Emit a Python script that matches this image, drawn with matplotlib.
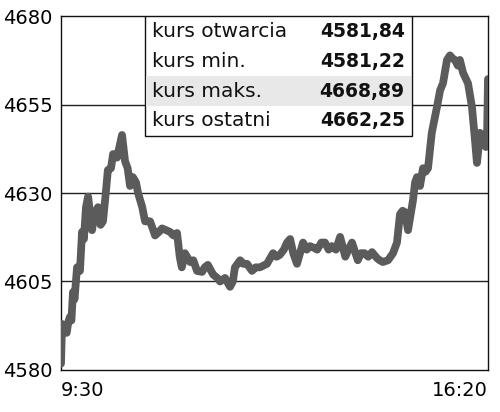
import matplotlib
matplotlib.use("Agg")
import matplotlib.pyplot as plt
from matplotlib.patches import Rectangle

# minutes since 9:30 and index value
minutes = [0, 1, 3, 5.5, 7, 8.6, 10, 11.5, 13, 15.4, 18.2, 20.2, 22, 24, 26, 28, 29.8,
           32, 35.5, 38, 40.3, 43, 45, 48, 50, 53.8, 56, 58.6, 61.5, 64, 66.3, 69, 72, 74,
           78, 80.7, 85.5, 88, 90.3, 94, 97, 101, 104.7, 108, 111.4, 114, 116, 119, 124,
           127, 130.6, 135.4, 138, 141, 146, 150, 152.7, 157.5, 162.3, 165, 167, 172, 175,
           178.6, 183.4, 187, 191, 197.8, 203.6, 207, 210, 214, 217, 220, 223, 226.6,
           232.4, 236, 239, 243, 246, 250, 253.5, 257, 260, 264, 268, 273, 276, 279.4,
           285, 288, 291.5, 295, 298.6, 303.4, 306, 309, 314, 318.8, 322.6, 325.5, 328,
           330.3, 333.2, 338, 340, 341.8, 344.7, 347.6, 350, 352.4, 356, 361, 364, 366.8,
           370.6, 373.5, 376, 378.3, 381, 383, 386, 390.8, 394.6, 397.5, 399.4, 401,
           402.3, 405, 408, 409, 410]
values = [4581.8, 4593, 4592, 4590.5, 4593.5, 4595, 4594, 4602, 4600, 4609, 4608, 4619, 4617,
          4626, 4629, 4624, 4619.5, 4624, 4626, 4621, 4622, 4630, 4636.5, 4637, 4641, 4640,
          4643, 4646.4, 4639, 4637, 4632, 4634.5, 4633, 4630, 4626, 4622, 4622, 4620, 4618,
          4619, 4620, 4619.5, 4619, 4618, 4618.7, 4612, 4609, 4613, 4610.5, 4611, 4608,
          4607.7, 4609, 4609.7, 4607, 4606, 4605, 4606, 4603.5, 4605, 4609, 4611, 4610,
          4610, 4608, 4609, 4609, 4610, 4613, 4612, 4612.5, 4614, 4616, 4617, 4613, 4610,
          4616, 4614, 4615, 4614.5, 4614, 4616, 4616, 4614, 4615, 4614, 4617.6, 4612, 4614,
          4616, 4611, 4613, 4613, 4612, 4613.3, 4611.6, 4611, 4610.5, 4611, 4613, 4616,
          4624, 4625, 4624.6, 4619.5, 4628, 4633, 4634.5, 4632, 4637, 4636, 4637, 4647,
          4654.3, 4659, 4661, 4667.6, 4668.9, 4668, 4667.6, 4666, 4667.6, 4664, 4661,
          4654.3, 4645, 4638.5, 4643, 4647, 4646, 4643, 4644, 4662.2]

ytick_vals = [4580, 4605, 4630, 4655, 4680]
xtick_labels = ["9:30", "16:20"]

row_labels = ["kurs otwarcia", "kurs min.", "kurs maks.", "kurs ostatni"]
row_values = ["4581,84", "4581,22", "4668,89", "4662,25"]

plt.rcParams['font.family'] = ['DejaVu Sans']

fig = plt.figure(figsize=(5, 4.12), dpi=100)
ax = fig.add_axes([0.122, 0.102, 0.854, 0.859])

for v in ytick_vals[1:-1]:
    ax.axhline(v, color='#222222', lw=1.0, zorder=1)

ax.plot(minutes, values, color='#5b5b5b', lw=5.6, solid_joinstyle='round',
        solid_capstyle='round', zorder=3)

ax.set_xlim(0, 410)
ax.set_ylim(4580, 4680)
ax.set_yticks(ytick_vals)
ax.set_yticklabels([str(v) for v in ytick_vals], fontsize=14)
ax.set_xticks([0, 410])
ax.set_xticklabels(xtick_labels, fontsize=14)
xl = ax.get_xticklabels()
xl[0].set_horizontalalignment('left')
xl[1].set_horizontalalignment('right')
ax.tick_params(axis='y', length=0, pad=6)
ax.tick_params(axis='x', length=0, pad=8)
for s in ax.spines.values():
    s.set_linewidth(1.0)
    s.set_color('#111111')

# info table in the top of the plot
x0, x1 = 0.197, 0.822
rh = 0.0847
top = 1.0
ax.add_patch(Rectangle((x0, top - 4 * rh), x1 - x0, 4 * rh, transform=ax.transAxes,
                       facecolor='white', edgecolor='#111111', lw=1.0, zorder=5))
ax.add_patch(Rectangle((x0 + 0.002, top - 3 * rh), x1 - x0 - 0.004, rh, transform=ax.transAxes,
                       facecolor='#e8e8e8', edgecolor='none', zorder=6))
for i, (lab, val) in enumerate(zip(row_labels, row_values)):
    yc = top - (i + 0.5) * rh
    ax.text(x0 + 0.016, yc, lab, transform=ax.transAxes, fontsize=14.5,
            va='center', ha='left', color='#111111', zorder=7)
    ax.text(x1 - 0.017, yc, val, transform=ax.transAxes, fontsize=13.5,
            fontweight='bold', va='center', ha='right', color='#111111', zorder=7)

fig.savefig("out.png", dpi=100)
